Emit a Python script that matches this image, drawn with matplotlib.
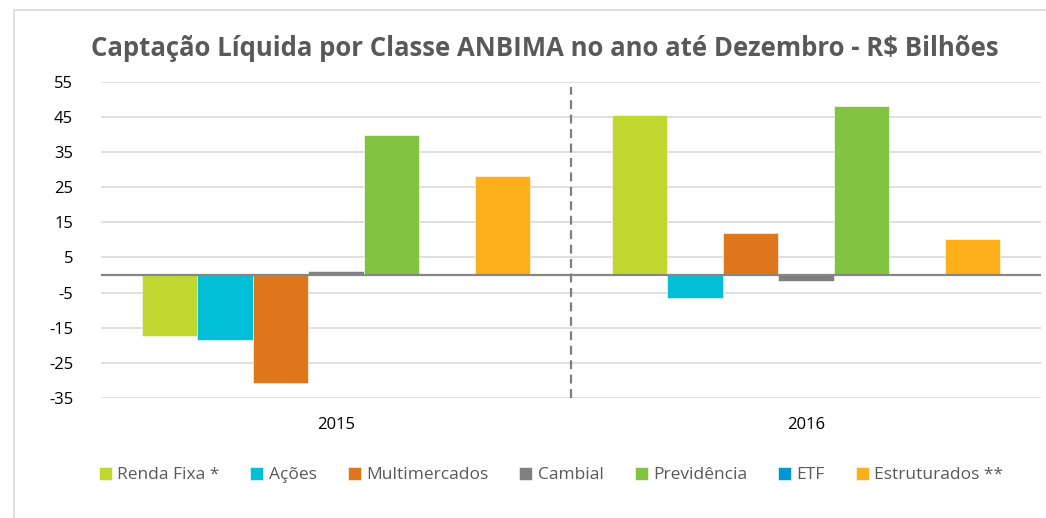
import matplotlib
matplotlib.use("Agg")
import matplotlib.pyplot as plt
from matplotlib.patches import Rectangle
import numpy as np

years = ["2015", "2016"]
series = ["Renda Fixa *", "Ações", "Multimercados", "Cambial", "Previdência", "ETF", "Estruturados **"]
values = {
    "Renda Fixa *": [-17.4, 45.6],
    "Ações": [-18.6, -6.5],
    "Multimercados": [-30.8, 12.0],
    "Cambial": [1.2, -1.6],
    "Previdência": [39.7, 48.0],
    "ETF": [0.0, 0.0],
    "Estruturados **": [28.2, 10.3],
}
colors = ["#C0D72F", "#00BFD7", "#DE761C", "#808080", "#82C341", "#0096D6", "#FDB019"]
yticks = [-35, -25, -15, -5, 5, 15, 25, 35, 45, 55]

plt.rcParams['font.family'] = ['Open Sans', 'DejaVu Sans']

W, H = 1046, 518
fig = plt.figure(figsize=(W/100, H/100), dpi=100)
fig.patches.append(Rectangle((14/W, -0.1), 1.2, 1 - 10/H + 0.1, transform=fig.transFigure,
                             fill=False, edgecolor="#D9D9D9", linewidth=1.2))

ax = fig.add_axes([101/W, 1 - 398/H, (1041-101)/W, (398-81.7)/H])
x = np.arange(len(years))
bw = 0.118
for i, s in enumerate(series):
    ax.bar(x + (i - 3) * bw, values[s], width=bw, color=colors[i], label=s, zorder=3,
           edgecolor="white", linewidth=0.4)

ax.set_xlim(-0.5, 1.5)
ax.set_ylim(-35, 55)
ax.set_yticks(yticks)
ax.set_yticklabels([str(t) for t in yticks], fontsize=12, color="#000000")
ax.yaxis.grid(True, color="#D9D9D9", linewidth=1.2, zorder=0)
ax.set_axisbelow(True)
ax.tick_params(axis='y', length=0, pad=20)
ax.tick_params(axis='x', length=0, pad=14)
ax.set_xticks(x)
ax.set_xticklabels(years, fontsize=12, color="#000000")
for sp in ax.spines.values():
    sp.set_visible(False)
ax.axhline(0, color="#868686", linewidth=1.6, zorder=4)
ax.plot([0.5, 0.5], [-35, 53.5], linestyle=(0, (4, 2.5)), color="#7F7F7F", linewidth=1.6, zorder=5)

fig.text(545/W, 1 - 48/H, "Captação Líquida por Classe ANBIMA no ano até Dezembro - R$ Bilhões",
         ha="center", va="center", fontsize=18.5, fontweight="bold", color="#595959")

leg = fig.legend(loc="center", bbox_to_anchor=(551/W, 1 - 475/H), ncol=7, frameon=False,
                 fontsize=12.5, handlelength=0.75, handleheight=0.75, handletextpad=0.3,
                 columnspacing=1.8, labelcolor="#595959")

fig.savefig("out.png", dpi=100)
